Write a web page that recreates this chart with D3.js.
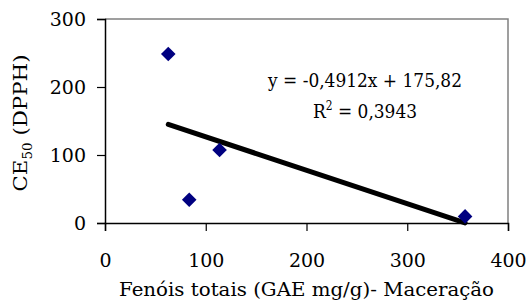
<!DOCTYPE html>
<html><head><meta charset="utf-8">
<script src="https://cdn.jsdelivr.net/npm/d3@7"></script>
<style>body{margin:0;background:#fff}svg{display:block}svg text{font-family:"DejaVu Serif",serif;fill:#000}</style>
</head><body>
<script>
const xValues = [62.8, 83.6, 113.7, 357.4];
const yValues = [248.5, 34.3, 107.3, 9.7];
const xTicks = [0, 100, 200, 300, 400];
const yTicks = [0, 100, 200, 300];
const slope = -0.4912, intercept = 175.82;
const eqText = "y = -0,4912x + 175,82";
const r2Text = "0,3943";
const xTitle = "Fenóis totais (GAE mg/g)- Maceração";

const W = 528, H = 303;
const L = 105, R = 508, T = 19, B = 223;
const FS = 19;
const svg = d3.select("body").append("svg").attr("width", W).attr("height", H);
const x = d3.scaleLinear().domain([0, 400]).range([L, R]);
const y = d3.scaleLinear().domain([0, 300]).range([B, T]);

svg.append("path").attr("d", `M${L},${T}H${R}V${B}`).attr("fill","none").attr("stroke","#808080").attr("stroke-width",1.5);

const xa = svg.append("g").attr("transform", `translate(0,${B})`)
  .call(d3.axisBottom(x).tickValues(xTicks).tickSize(8).tickPadding(23).tickFormat(d3.format("d")));
const ya = svg.append("g").attr("transform", `translate(${L},0)`)
  .call(d3.axisLeft(y).tickValues(yTicks).tickSize(8).tickPadding(11).tickFormat(d3.format("d")));
[xa, ya].forEach(g => {
  g.attr("font-family", null).attr("font-size", null);
  g.select(".domain").attr("stroke","#000").attr("stroke-width",1.5);
  g.selectAll(".tick line").attr("stroke","#000").attr("stroke-width",1.2);
  g.selectAll("text").style("font-size",FS+"px").attr("fill","#000");
});

const xmin = d3.min(xValues), xmax = d3.max(xValues);
svg.append("line")
  .attr("x1", x(xmin)).attr("y1", y(slope*xmin+intercept))
  .attr("x2", x(xmax)).attr("y2", y(slope*xmax+intercept))
  .attr("stroke","#000").attr("stroke-width",5).attr("stroke-linecap","round");

svg.selectAll(".pt").data(xValues.map((v,i)=>[v,yValues[i]])).enter().append("path")
  .attr("class","pt")
  .attr("d", "M0,-7.3L7.3,0L0,7.3L-7.3,0Z")
  .attr("transform", d => `translate(${x(d[0])},${y(d[1])})`)
  .attr("fill","#000080");

svg.append("text").attr("x", 365).attr("y", 87).attr("text-anchor","middle").style("font-size",FS+"px")
  .attr("textLength",194).attr("lengthAdjust","spacingAndGlyphs").text(eqText);
const r2 = svg.append("text").attr("x", 365).attr("y", 118).attr("text-anchor","middle").style("font-size",FS+"px")
  .attr("textLength",104).attr("lengthAdjust","spacingAndGlyphs");
r2.append("tspan").text("R");
r2.append("tspan").style("font-size","12px").attr("dy",-8).text("2");
r2.append("tspan").attr("dy",8).text(" = " + r2Text);

svg.append("text").attr("x", 306.5).attr("y", 296).attr("text-anchor","middle").style("font-size",FS+"px")
  .attr("textLength",375).attr("lengthAdjust","spacingAndGlyphs").text(xTitle);
const yt = svg.append("text").attr("transform", `translate(27,${(T+B)/2+2}) rotate(-90)`).attr("text-anchor","middle").style("font-size",FS+"px")
  .attr("textLength",137).attr("lengthAdjust","spacingAndGlyphs");
yt.append("tspan").text("CE");
yt.append("tspan").style("font-size","12px").attr("dy",5).text("50");
yt.append("tspan").attr("dy",-5).text(" (DPPH)");
</script>
</body></html>
